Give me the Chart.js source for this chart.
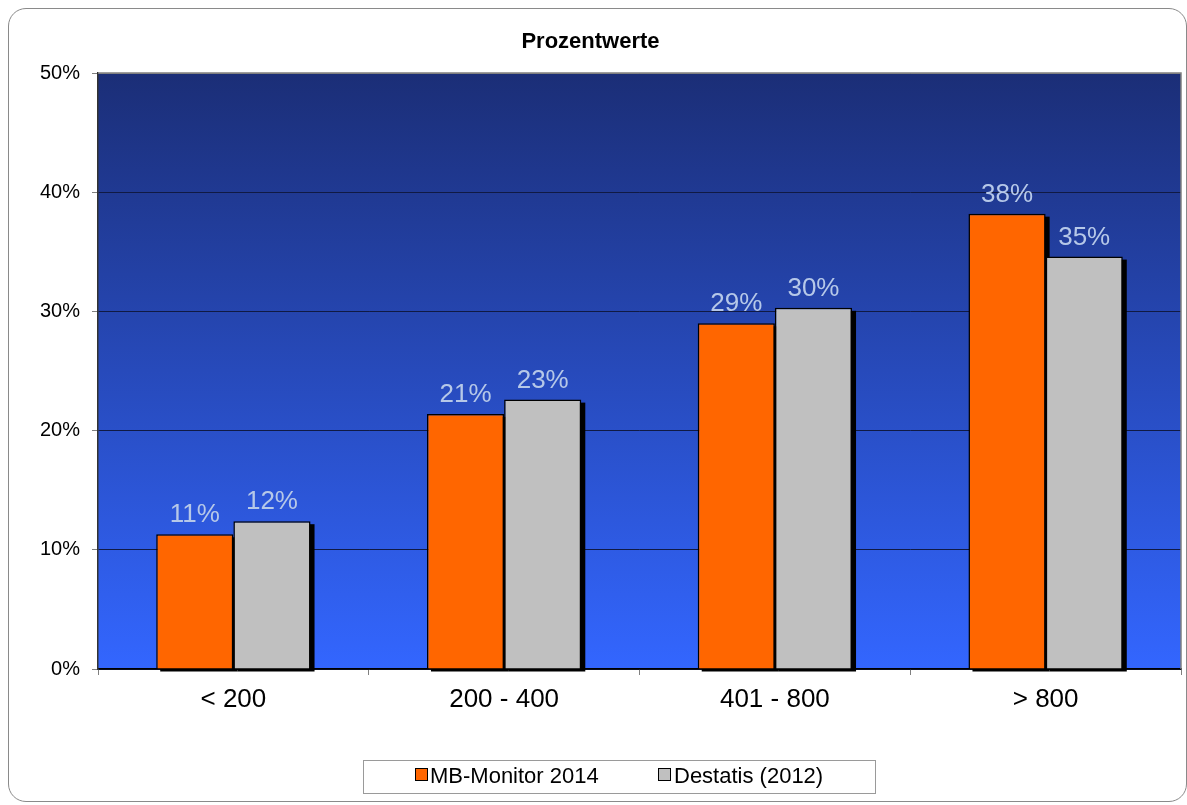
<!DOCTYPE html>
<html>
<head>
<meta charset="utf-8">
<script src="https://cdn.jsdelivr.net/npm/chart.js@4.4.1/dist/chart.umd.min.js"></script>
<style>
html,body{margin:0;padding:0;background:#fff;}
#frame{position:absolute;left:8px;top:8px;width:1179px;height:794px;box-sizing:border-box;border:1px solid #8a8a8a;border-radius:18px;}
#wrap{position:absolute;left:0;top:0;width:1187px;height:805px;}
</style>
</head>
<body>
<div id="frame"></div>
<div id="wrap"><canvas id="c" width="1187" height="805"></canvas></div>
<script>
const categories = ['< 200', '200 - 400', '401 - 800', '> 800'];
const mbMonitor2014 = [11.3, 21.4, 29.0, 38.2];
const destatis2012 = [12.4, 22.6, 30.3, 34.6];
const seriesNames = ['MB-Monitor 2014', 'Destatis (2012)'];
const yTicks = [0, 10, 20, 30, 40, 50];

const FONT = '"Liberation Sans", Arial, sans-serif';

const bgPlugin = {
  id: 'bg',
  beforeDraw(chart) {
    const {ctx, chartArea: a} = chart;
    const g = ctx.createLinearGradient(0, a.top, 0, a.bottom);
    g.addColorStop(0, '#1b2e77');
    g.addColorStop(1, '#3366ff');
    ctx.save();
    ctx.fillStyle = g;
    ctx.fillRect(a.left, a.top, a.right - a.left, a.bottom - a.top);
    ctx.restore();
  },
  afterDraw(chart) {
    const {ctx, chartArea: a} = chart;
    ctx.save();
    ctx.strokeStyle = '#808080';
    ctx.lineWidth = 1.5;
    ctx.beginPath();
    ctx.moveTo(a.left, a.top);
    ctx.lineTo(a.right, a.top);
    ctx.lineTo(a.right, a.bottom);
    ctx.stroke();
    ctx.restore();
    // legend
    ctx.save();
    ctx.strokeStyle = '#9a9a9a';
    ctx.lineWidth = 1;
    ctx.strokeRect(363.5, 760.5, 512, 33);
    const items = [
      {x: 415, tx: 430, color: chart.data.datasets[0].backgroundColor, text: chart.data.datasets[0].label},
      {x: 658, tx: 674, color: chart.data.datasets[1].backgroundColor, text: chart.data.datasets[1].label}
    ];
    ctx.font = '22px ' + FONT;
    ctx.textBaseline = 'middle';
    ctx.textAlign = 'left';
    items.forEach(it => {
      ctx.fillStyle = it.color;
      ctx.fillRect(it.x, 768, 12, 12);
      ctx.strokeStyle = '#000';
      ctx.lineWidth = 1;
      ctx.strokeRect(it.x + 0.5, 768.5, 12, 12);
      ctx.fillStyle = '#000';
      ctx.fillText(it.text, it.tx, 777);
    });
    ctx.restore();
  }
};

const shadowPlugin = {
  id: 'shadow',
  beforeDatasetsDraw(chart) {
    const ctx = chart.ctx;
    ctx.save();
    ctx.fillStyle = '#000';
    chart.data.datasets.forEach((ds, i) => {
      chart.getDatasetMeta(i).data.forEach(bar => {
        const p = bar.getProps(['x', 'y', 'base', 'width'], true);
        ctx.fillRect(p.x - p.width / 2 + 4, p.y + 3, p.width, p.base - p.y);
      });
    });
    ctx.restore();
  },
  afterDatasetsDraw(chart) {
    const ctx = chart.ctx;
    ctx.save();
    ctx.font = '26px ' + FONT;
    ctx.fillStyle = '#b6c8e8';
    ctx.textAlign = 'center';
    ctx.textBaseline = 'alphabetic';
    chart.data.datasets.forEach((ds, i) => {
      chart.getDatasetMeta(i).data.forEach((bar, j) => {
        const p = bar.getProps(['x', 'y'], true);
        ctx.fillText(Math.round(ds.data[j]) + '%', p.x, p.y - 12);
      });
    });
    ctx.restore();
  }
};

new Chart(document.getElementById('c'), {
  type: 'bar',
  data: {
    labels: categories,
    datasets: [
      {label: seriesNames[0], data: mbMonitor2014, backgroundColor: '#ff6600', borderColor: '#000', borderWidth: 1.5},
      {label: seriesNames[1], data: destatis2012, backgroundColor: '#c0c0c0', borderColor: '#000', borderWidth: 1.5}
    ]
  },
  options: {
    responsive: false,
    animation: false,
    devicePixelRatio: 1,
    layout: {padding: {top: 0, right: 6, bottom: 0, left: 0}},
    datasets: {bar: {categoryPercentage: 0.57, barPercentage: 1.0}},
    plugins: {
      legend: {display: false},
      tooltip: {enabled: false},
      title: {
        display: true,
        text: 'Prozentwerte',
        color: '#000',
        font: {family: FONT, size: 22, weight: 'bold'},
        padding: {top: 29, bottom: 17.6}
      }
    },
    scales: {
      x: {
        afterFit(s) { s.height = 136; },
        grid: {display: true, drawOnChartArea: false, drawTicks: true, offset: true, tickLength: 6, tickColor: '#808080', color: '#808080'},
        border: {display: true, color: '#000', width: 1.5},
        ticks: {color: '#000', font: {family: FONT, size: 26}, padding: 9}
      },
      y: {
        min: 0, max: 50,
        afterFit(s) { s.width = 98; },
        afterBuildTicks(s) { s.ticks = yTicks.map(v => ({value: v})); },
        grid: {
          color: ctx => (ctx.tick && ctx.tick.value === 50) ? '#808080' : '#101a44',
          lineWidth: 1,
          tickLength: 6,
          tickColor: '#808080'
        },
        border: {display: true, color: '#333', width: 1.5},
        ticks: {color: '#000', font: {family: FONT, size: 20}, padding: 12, callback: v => v + '%'}
      }
    }
  },
  plugins: [bgPlugin, shadowPlugin]
});
</script>
</body>
</html>
